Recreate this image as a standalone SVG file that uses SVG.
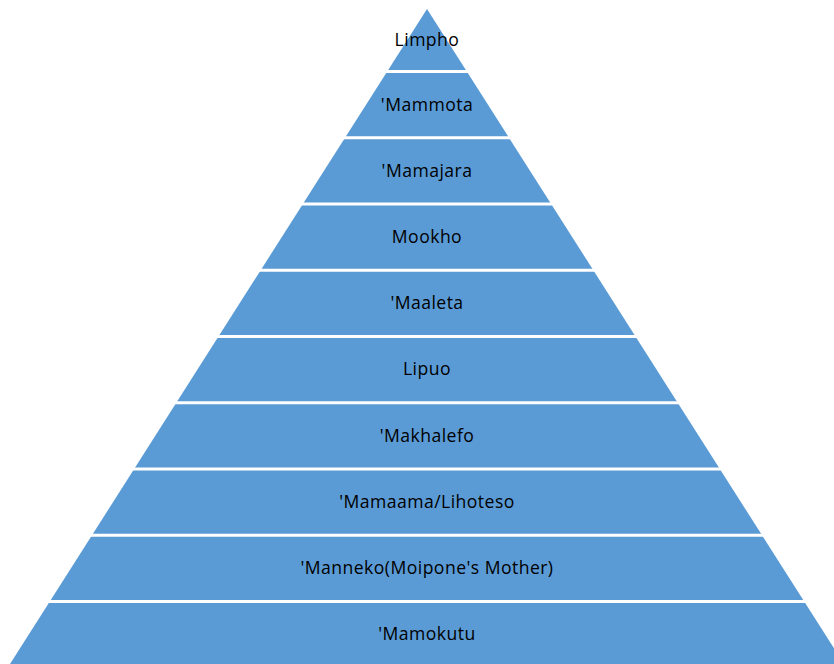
<svg xmlns="http://www.w3.org/2000/svg" width="834" height="664" viewBox="0 0 834 664">
<style>
.band{fill:#5B9BD5;}
.sep{stroke:#FFFFFF;stroke-width:3;}
.lbl{font-family:"Open Sans","Liberation Sans",sans-serif;font-size:17.6px;letter-spacing:0.45px;fill:#000000;text-anchor:middle;}
</style>
<rect width="834" height="664" fill="#FFFFFF"/>
<g id="pyramid">
<polygon class="band" points="427,9 844,664 10,664"/>
</g>
<g id="connectors">
<line class="sep" x1="0" y1="71.5" x2="834" y2="71.5"/>
<line class="sep" x1="0" y1="137.75" x2="834" y2="137.75"/>
<line class="sep" x1="0" y1="204" x2="834" y2="204"/>
<line class="sep" x1="0" y1="270.25" x2="834" y2="270.25"/>
<line class="sep" x1="0" y1="336.5" x2="834" y2="336.5"/>
<line class="sep" x1="0" y1="402.75" x2="834" y2="402.75"/>
<line class="sep" x1="0" y1="469" x2="834" y2="469"/>
<line class="sep" x1="0" y1="535.25" x2="834" y2="535.25"/>
<line class="sep" x1="0" y1="601.5" x2="834" y2="601.5"/>
</g>
<g id="n1"><text class="lbl" x="427" y="46">Limpho</text></g>
<g id="n2"><text class="lbl" x="427" y="111">'Mammota</text></g>
<g id="n3"><text class="lbl" x="427" y="177">'Mamajara</text></g>
<g id="n4"><text class="lbl" x="427" y="243">Mookho</text></g>
<g id="n5"><text class="lbl" x="427" y="309">'Maaleta</text></g>
<g id="n6"><text class="lbl" x="427" y="375">Lipuo</text></g>
<g id="n7"><text class="lbl" x="427" y="442">'Makhalefo</text></g>
<g id="n8"><text class="lbl" x="427" y="508">'Mamaama/Lihoteso</text></g>
<g id="n9"><text class="lbl" x="427" y="574">'Manneko(Moipone's Mother)</text></g>
<g id="n10"><text class="lbl" x="427" y="640">'Mamokutu</text></g>
</svg>
